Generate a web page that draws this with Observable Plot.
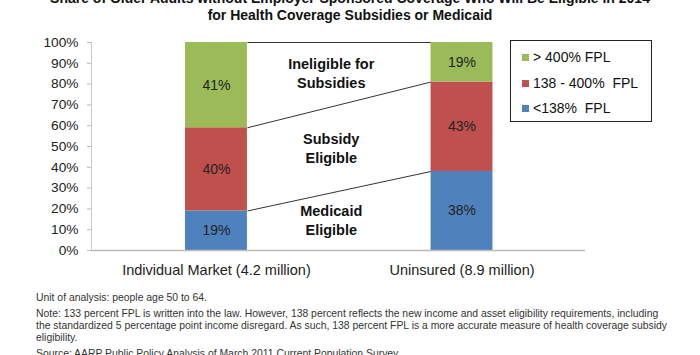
<!DOCTYPE html>
<html>
<head>
<meta charset="utf-8">
<script src="https://cdn.jsdelivr.net/npm/d3@7"></script>
<script src="https://cdn.jsdelivr.net/npm/@observablehq/plot@0.6"></script>
<style>
  html, body { margin: 0; padding: 0; background: #fff; }
  #wrap { position: relative; width: 700px; height: 355px; overflow: hidden; font-family: "Liberation Sans", Arial, sans-serif; }
  #title { position: absolute; left: 0; top: -10px; width: 700px; text-align: center; font-weight: bold; font-size: 14px; line-height: 17px; color: #111; }
  #legend { position: absolute; left: 510px; top: 40px; width: 140px; height: 80px; border: 1px solid #222; font-size: 14px; color: #111; }
  #legend .row { position: absolute; left: 11px; white-space: pre; line-height: 16px; }
  #legend .sw { display: inline-block; width: 7px; height: 7px; margin-right: 4px; vertical-align: 1px; }
  #footer { position: absolute; left: 36px; top: 292px; font-size: 10.4px; line-height: 12px; color: #333; white-space: nowrap; }
  #footer p { margin: 0 0 4px 0; }
  #chart { position: absolute; left: 0; top: 0; }
</style>
</head>
<body>
<div id="wrap">
  <div id="chart"></div>
  <div id="title"></div>
  <div id="legend"></div>
  <div id="footer"></div>
</div>
<script>
// ---- data ----
const categories = ["Individual Market (4.2 million)", "Uninsured (8.9 million)"];
const groups = ["<138%  FPL", "138 - 400%  FPL", "> 400% FPL"];
const below138 = [19, 38];
const from138to400 = [40, 43];
const above400 = [41, 19];
const groupColors = ["#4F81BD", "#C0504D", "#9BBB59"];
const regionLabels = ["Medicaid\nEligible", "Subsidy\nEligible", "Ineligible for\nSubsidies"];
const yTicks = [0, 10, 20, 30, 40, 50, 60, 70, 80, 90, 100];
const titleLines = [
  "Share of Older Adults without Employer-Sponsored Coverage Who Will Be Eligible in 2014",
  "for Health Coverage Subsidies or Medicaid"
];
const footnotes = [
  ["Unit of analysis: people age 50 to 64."],
  ["Note: 133 percent FPL is written into the law. However, 138 percent reflects the new income and asset eligibility requirements, including",
   "the standardized 5 percentage point income disregard. As such, 138 percent FPL is a more accurate measure of health coverage subsidy",
   "eligibility."],
  ["Source: AARP Public Policy Analysis of March 2011 Current Population Survey."]
];

// ---- build tables ----
const seriesValues = [below138, from138to400, above400];
const segments = [];
const cum = categories.map(() => [0]);
categories.forEach((c, i) => {
  let base = 0;
  seriesValues.forEach((vals, g) => {
    segments.push({cat: i, group: groups[g], color: groupColors[g], value: vals[i], y1: base, y2: base + vals[i]});
    base += vals[i];
    cum[i].push(base);
  });
});

const HW = 0.126; // half bar width in x units
const xDomain = [-0.509, 1.503];

const connectors = seriesValues.map((_, k) => ({
  xa: 0 + HW, ya: cum[0][k + 1], xb: 1 - HW, yb: cum[1][k + 1]
}));
connectors.push({xa: 0 + HW, ya: 0, xb: 1 - HW, yb: 0});

const regions = regionLabels.map((label, k) => {
  const lo = (cum[0][k] + cum[1][k]) / 2;
  const hi = (cum[0][k + 1] + cum[1][k + 1]) / 2;
  return {label, y: (lo + hi) / 2};
});

const chart = Plot.plot({
  width: 700,
  height: 355,
  marginLeft: 91,
  marginRight: 115,
  marginTop: 42,
  marginBottom: 105,
  style: {fontFamily: "Liberation Sans, Arial, sans-serif", background: "transparent", overflow: "visible"},
  x: {domain: xDomain, axis: null},
  y: {domain: [0, 100], axis: null},
  marks: [
    Plot.link(connectors, {x1: "xa", y1: "ya", x2: "xb", y2: "yb", stroke: "#333", strokeWidth: 1}),
    Plot.rect(segments, {x1: d => d.cat - HW, x2: d => d.cat + HW, y1: "y1", y2: "y2", fill: "color"}),
    Plot.text(segments, {x: "cat", y: d => (d.y1 + d.y2) / 2, text: d => d.value + "%", fontSize: 14, fill: "#222"}),
    Plot.text(regions, {x: 0.5, dx: -8, y: "y", dy: -1, text: "label", fontSize: 14.5, fontWeight: "bold", fill: "#111", lineHeight: 1.3}),
    Plot.ruleY([0], {stroke: "#bbb", strokeWidth: 1.5}),
    Plot.ruleX([xDomain[0]], {y1: 0, y2: 100, stroke: "#ccc", strokeWidth: 1}),
    Plot.axisY({ticks: yTicks, tickFormat: d => d + "%", tickSize: 4, tickPadding: 9, fontSize: 13.7, stroke: "#bbb", color: "#222"}),
    Plot.axisX({ticks: [0, 1], tickFormat: i => categories[i], tickSize: 0, tickPadding: 14, fontSize: 14.5, color: "#222"})
  ]
});
document.getElementById("chart").appendChild(chart);

// title
document.getElementById("title").innerHTML = titleLines.map(t => `<div>${t}</div>`).join("");

// legend (top to bottom: highest group first)
const legend = document.getElementById("legend");
[2, 1, 0].forEach((g, r) => {
  const row = document.createElement("div");
  row.className = "row";
  row.style.top = (8 + r * 25.5) + "px";
  row.innerHTML = `<span class="sw" style="background:${groupColors[g]}"></span>${groups[g]}`;
  legend.appendChild(row);
});

// footer
document.getElementById("footer").innerHTML = footnotes.map(p => `<p>${p.join("<br>")}</p>`).join("");
</script>
</body>
</html>
